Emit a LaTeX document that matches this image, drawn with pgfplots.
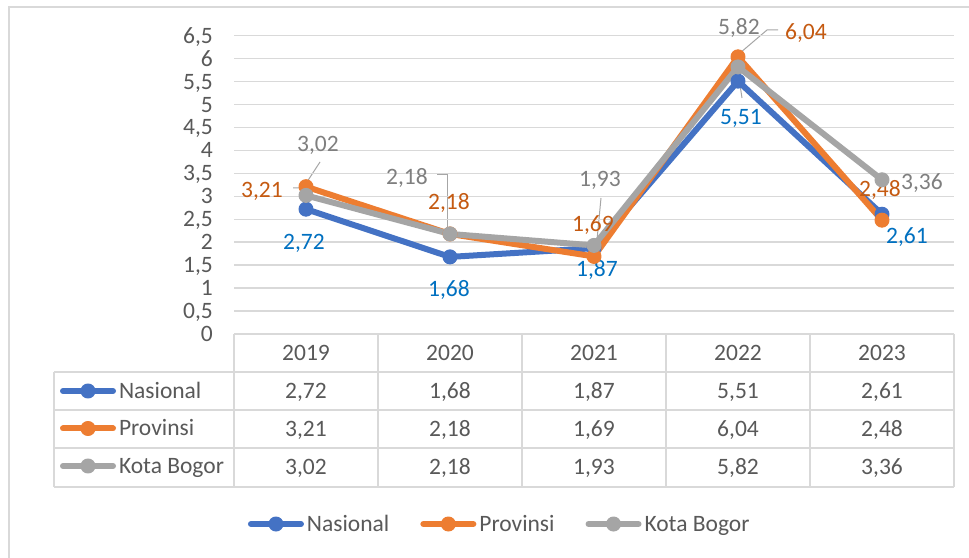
\documentclass[border=0pt]{standalone}
\usepackage{pgfplots}
\pgfplotsset{compat=1.18}
\usepackage{pgfplotstable}
\usepackage{fontspec}
\setmainfont{Carlito}
\definecolor{cblue}{HTML}{4472C4}
\definecolor{corange}{HTML}{ED7D31}
\definecolor{cgray}{HTML}{A5A5A5}
\definecolor{lblue}{HTML}{0070C0}
\definecolor{lorange}{HTML}{C55A11}
\definecolor{lgray}{HTML}{7F7F7F}
\definecolor{txt}{HTML}{595959}
\definecolor{gridc}{HTML}{D9D9D9}
\definecolor{leader}{HTML}{A6A6A6}

\pgfplotstableread{
x nas prov kota
0 2.72 3.21 3.02
1 1.68 2.18 2.18
2 1.87 1.69 1.93
3 5.51 6.04 5.82
4 2.61 2.48 3.36
}\data

\newcommand{\fs}{\fontsize{23.5}{28}\selectfont}
\tikzset{
  ser/.style={line width=6pt, line cap=round, line join=round, mark=*, mark size=7pt, mark options={solid, line width=1pt}},
  nas/.style={ser, color=cblue},
  prov/.style={ser, color=corange},
  kota/.style={ser, color=cgray},
  lab/.style={font=\fs, inner sep=0pt, text height=15pt, text depth=0pt, anchor=center},
}
\pgfplotsset{
  keyimg/.style={legend image code/.code={
    \path[draw=none, fill=none, mark=none] (0pt,-10pt) rectangle (56pt,10pt);
    \draw[##1, mark repeat=2, mark phase=2] plot coordinates {(3pt,0pt) (28pt,0pt) (53pt,0pt)};
  }},
}

\begin{document}
\begin{tikzpicture}[x=1pt,y=1pt]
\useasboundingbox (0,0) rectangle (969,557);
\fill[white] (0,0) rectangle (969,557);
% chart area border
\draw[gridc, line width=1.5pt] (9,-5) -- (9,550) -- (980,550);

% data table
\begin{scope}[gridc, line width=1.5pt]
  \draw (234,223) -- (954,223);
  \foreach \yy in {185,147,109,70} \draw (54,\yy) -- (954,\yy);
  \draw (54,185) -- (54,70);
  \foreach \xx in {234,378,522,666,810,954} \draw (\xx,223) -- (\xx,70);
\end{scope}
\begin{scope}[every node/.style={font=\fs, text=txt, inner sep=0pt, text height=15pt, text depth=0pt, anchor=center}]
  \node at (306,204) {2019}; \node at (450,204) {2020}; \node at (594,204) {2021}; \node at (738,204) {2022}; \node at (882,204) {2023};
  \node at (306,166) {2,72}; \node at (450,166) {1,68}; \node at (594,166) {1,87}; \node at (738,166) {5,51}; \node at (882,166) {2,61};
  \node at (306,128) {3,21}; \node at (450,128) {2,18}; \node at (594,128) {1,69}; \node at (738,128) {6,04}; \node at (882,128) {2,48};
  \node at (306,90) {3,02}; \node at (450,90) {2,18}; \node at (594,90) {1,93}; \node at (738,90) {5,82}; \node at (882,90) {3,36};
\end{scope}

% leader lines
\begin{scope}[leader, line width=1pt]
  \draw (320,395) -- (303,369) -- (293,369);
  \draw (437,382) -- (447,382) -- (447,325);
  \draw (601,359) -- (597,317);
  \draw (778,527) -- (767,527) -- (740,504);
  \draw (740,472) -- (742,459);
\end{scope}

% table keys (legend of a hidden canvas axis)
\begin{axis}[
  at={(0pt,0pt)}, anchor=south west, scale only axis,
  width=969pt, height=557pt, hide axis,
  xmin=0, xmax=969, ymin=0, ymax=557,
  keyimg, legend cell align=left,
  legend style={at={(axis description cs:0.06192,0.31598)}, anchor=north west,
    draw=none, fill=none, inner sep=0pt, outer sep=0pt, row sep=17.5pt,
    nodes={inner sep=0pt, font=\fs, text=txt, text height=15pt, text depth=0pt},
    /tikz/every odd column/.append style={column sep=3pt}},
]
\addlegendimage{nas}\addlegendentry{Nasional}
\addlegendimage{prov}\addlegendentry{Provinsi}
\addlegendimage{kota}\addlegendentry{Kota Bogor}
\end{axis}

% main chart
\begin{axis}[
  at={(234pt,223pt)}, anchor=south west, scale only axis,
  width=720pt, height=298.3pt,
  xmin=-0.5, xmax=4.5, ymin=0, ymax=6.5,
  xtick=\empty,
  ytick={0,0.5,1,1.5,2,2.5,3,3.5,4,4.5,5,5.5,6,6.5},
  yticklabels={0,{0,5},1,{1,5},2,{2,5},3,{3,5},4,{4,5},5,{5,5},6,{6,5}},
  ymajorgrids, grid style={gridc, line width=1.5pt},
  axis line style={draw=none}, major tick length=0pt,
  yticklabel style={font=\fs, text=txt, anchor=east, inner sep=0pt, xshift=-21pt, text height=15pt, text depth=0pt},
  clip=false,
  keyimg, legend columns=3, legend cell align=left,
  legend style={at={(axis description cs:0.0194,-0.637)}, anchor=west,
    draw=none, fill=none, inner sep=0pt, outer sep=0pt,
    nodes={inner sep=0pt, font=\fs, text=txt, text height=15pt, text depth=0pt},
    /tikz/every odd column/.append style={column sep=3pt},
    /tikz/every even column/.append style={column sep=31pt}},
]
\addplot[nas] table[x=x, y=nas] {\data};
\addlegendentry{Nasional}
\addplot[prov] table[x=x, y=prov] {\data};
\addlegendentry{Provinsi}
\addplot[kota] table[x=x, y=kota] {\data};
\addlegendentry{Kota Bogor}

% data labels
\begin{scope}[every node/.style={lab, text=lblue}]
  \node[xshift=-2pt, yshift=-33pt] at (axis cs:0,2.72) {2,72};
  \node[xshift=-1pt, yshift=-32pt] at (axis cs:1,1.68) {1,68};
  \node[xshift=3pt, yshift=-21pt] at (axis cs:2,1.87) {1,87};
  \node[xshift=3pt, yshift=-36pt] at (axis cs:3,5.51) {5,51};
  \node[xshift=25pt, yshift=-22pt] at (axis cs:4,2.61) {2,61};
\end{scope}
\begin{scope}[every node/.style={lab, text=lorange}]
  \node[xshift=-44pt, yshift=-3pt] at (axis cs:0,3.21) {3,21};
  \node[xshift=-1pt, yshift=32pt] at (axis cs:1,2.18) {2,18};
  \node[xshift=-1pt, yshift=32pt] at (axis cs:2,1.69) {1,69};
  \node[xshift=68pt, yshift=25pt] at (axis cs:3,6.04) {6,04};
  \node[xshift=-2pt, yshift=31pt] at (axis cs:4,2.48) {2,48};
\end{scope}
\begin{scope}[every node/.style={lab, text=lgray}]
  \node[xshift=12pt, yshift=51pt] at (axis cs:0,3.02) {3,02};
  \node[xshift=-43pt, yshift=57pt] at (axis cs:1,2.18) {2,18};
  \node[xshift=6pt, yshift=66pt] at (axis cs:2,1.93) {1,93};
  \node[xshift=1pt, yshift=40pt] at (axis cs:3,5.82) {5,82};
  \node[xshift=40pt, yshift=-2pt] at (axis cs:4,3.36) {3,36};
\end{scope}
\end{axis}
\end{tikzpicture}
\end{document}
